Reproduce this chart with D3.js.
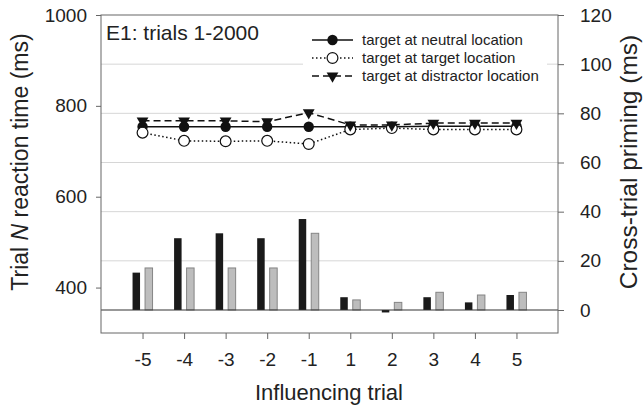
<!DOCTYPE html>
<html>
<head>
<meta charset="utf-8">
<script src="https://cdn.jsdelivr.net/npm/d3@7"></script>
<style>
  html, body { margin: 0; padding: 0; background: #fff; }
  svg { display: block; font-family: "Liberation Sans", Arial, sans-serif; }
  .tick text { fill: #222; }
</style>
</head>
<body>
<svg id="chart"></svg>
<script>
// influencing trial categories
const trials = ["-5", "-4", "-3", "-2", "-1", "1", "2", "3", "4", "5"];

// trial N reaction time (ms), left axis
const rtNeutral = [754, 754, 754, 754, 754, 754, 754, 755, 755, 755];
const rtTarget = [741, 723, 722, 723, 716, 748, 751, 748, 748, 748];
const rtDistractor = [767, 767, 767, 765, 785, 758, 758, 762, 762, 762];

// cross-trial priming (ms), right axis
const primingBlack = [15.2, 29.2, 31.2, 29.2, 37, 5.2, -1, 5.2, 3.1, 6.1];
const primingGray = [17.1, 17.1, 17.1, 17.1, 31.2, 4.1, 3.1, 7.2, 6.1, 7.2];

const leftTicks = [400, 600, 800, 1000];
const rightTicks = [0, 20, 40, 60, 80, 100, 120];

const legendItems = [
  { label: "target at neutral location", data: rtNeutral, dash: null, marker: "filled" },
  { label: "target at target location", data: rtTarget, dash: "1.5,2.5", marker: "open" },
  { label: "target at distractor location", data: rtDistractor, dash: "7,4", marker: "tri" }
];

const width = 644, height = 410;
const plot = { left: 101, right: 558, top: 15, bottom: 333 };

const svg = d3.select("#chart").attr("width", width).attr("height", height);

const x = d3.scalePoint()
    .domain(trials)
    .range([plot.left, plot.right])
    .padding(1);

const yL = d3.scaleLinear().domain([300, 1000]).range([plot.bottom, plot.top]);
const yR = d3.scaleLinear().domain([0, 120]).range([310, plot.top]);

// grid lines at right-axis ticks
svg.append("g")
  .selectAll("line")
  .data(rightTicks.filter(d => d > 0 && d < 120))
  .enter().append("line")
    .attr("x1", plot.left).attr("x2", plot.right)
    .attr("y1", d => yR(d)).attr("y2", d => yR(d))
    .attr("stroke", "#d6d6d6")
    .attr("stroke-width", 1);

// legend backdrop hides the grid
svg.append("rect")
  .attr("x", 303).attr("y", 26)
  .attr("width", 244).attr("height", 62)
  .attr("fill", "#fff");

// bars
svg.append("g")
  .selectAll("rect")
  .data(trials)
  .enter().append("rect")
    .attr("x", d => x(d) - 10)
    .attr("width", 7.5)
    .attr("y", (d, i) => yR(Math.max(0, primingBlack[i])))
    .attr("height", (d, i) => Math.abs(yR(primingBlack[i]) - yR(0)))
    .attr("fill", "#1a1a1a");

svg.append("g")
  .selectAll("rect")
  .data(trials)
  .enter().append("rect")
    .attr("x", d => x(d) + 2.5)
    .attr("width", 7.5)
    .attr("y", (d, i) => yR(Math.max(0, primingGray[i])))
    .attr("height", (d, i) => Math.abs(yR(primingGray[i]) - yR(0)))
    .attr("fill", "#bdbdbd")
    .attr("stroke", "#858585")
    .attr("stroke-width", 1);

// zero line
svg.append("line")
  .attr("x1", plot.left).attr("x2", plot.right)
  .attr("y1", yR(0)).attr("y2", yR(0))
  .attr("stroke", "#333")
  .attr("stroke-width", 1.2);

// reaction time lines
const line = d3.line()
    .x((d, i) => x(trials[i]))
    .y(d => yL(d));

const tri = d3.symbol().type(d3.symbolTriangle).size(60);

function drawMarker(g, kind, cx, cy) {
  if (kind === "filled") {
    g.append("circle").attr("cx", cx).attr("cy", cy).attr("r", 5.2).attr("fill", "#111");
  } else if (kind === "open") {
    g.append("circle").attr("cx", cx).attr("cy", cy).attr("r", 5.4)
      .attr("fill", "#fff").attr("stroke", "#111").attr("stroke-width", 1.2);
  } else {
    g.append("path").attr("d", tri)
      .attr("transform", `translate(${cx},${cy}) rotate(180)`)
      .attr("fill", "#111");
  }
}

legendItems.forEach(s => {
  const g = svg.append("g");
  g.append("path")
    .attr("d", line(s.data))
    .attr("fill", "none")
    .attr("stroke", "#111")
    .attr("stroke-width", 1.5)
    .attr("stroke-dasharray", s.dash);
  s.data.forEach((v, i) => drawMarker(g, s.marker, x(trials[i]), yL(v)));
});

// frame
svg.append("rect")
  .attr("x", plot.left).attr("y", plot.top)
  .attr("width", plot.right - plot.left).attr("height", plot.bottom - plot.top)
  .attr("fill", "none")
  .attr("stroke", "#666")
  .attr("stroke-width", 1);

// axes
function styleAxis(g) {
  g.select(".domain").remove();
  g.selectAll(".tick line").attr("stroke", "#666");
  g.selectAll(".tick text").style("font-size", "19px");
}

svg.append("g")
  .attr("transform", `translate(${plot.left},0)`)
  .call(d3.axisLeft(yL).tickValues(leftTicks).tickFormat(d3.format("d")).tickSize(5).tickPadding(9))
  .call(styleAxis);

svg.append("g")
  .attr("transform", `translate(${plot.right},0)`)
  .call(d3.axisRight(yR).tickValues(rightTicks).tickFormat(d3.format("d")).tickSize(6).tickPadding(16))
  .call(styleAxis);

svg.append("g")
  .attr("transform", `translate(0,${plot.bottom})`)
  .call(d3.axisBottom(x).tickSize(6).tickPadding(14))
  .call(styleAxis);

// titles
svg.append("text")
  .attr("x", 106).attr("y", 40)
  .style("font-size", "21px")
  .attr("fill", "#222")
  .text("E1: trials 1-2000");

const yTitle = svg.append("text")
  .attr("transform", "translate(28,162) rotate(-90)")
  .attr("text-anchor", "middle")
  .style("font-size", "23px")
  .attr("fill", "#222");
yTitle.append("tspan").text("Trial ");
yTitle.append("tspan").style("font-style", "italic").text("N");
yTitle.append("tspan").text(" reaction time (ms)");

svg.append("text")
  .attr("transform", "translate(637,162) rotate(-90)")
  .attr("text-anchor", "middle")
  .style("font-size", "24.5px")
  .attr("fill", "#222")
  .text("Cross-trial priming (ms)");

svg.append("text")
  .attr("x", 329).attr("y", 400)
  .attr("text-anchor", "middle")
  .style("font-size", "22px")
  .attr("fill", "#222")
  .text("Influencing trial");

// legend
const legend = svg.append("g");
legendItems.forEach((s, i) => {
  const ly = 40 + i * 18;
  const g = legend.append("g");
  g.append("line")
    .attr("x1", 312).attr("x2", 353)
    .attr("y1", ly).attr("y2", ly)
    .attr("stroke", "#111")
    .attr("stroke-width", 1.5)
    .attr("stroke-dasharray", s.dash);
  drawMarker(g, s.marker, 332.5, ly);
  g.append("text")
    .attr("x", 362).attr("y", ly)
    .attr("dy", "0.35em")
    .style("font-size", "15px")
    .attr("fill", "#222")
    .text(s.label);
});
</script>
</body>
</html>
